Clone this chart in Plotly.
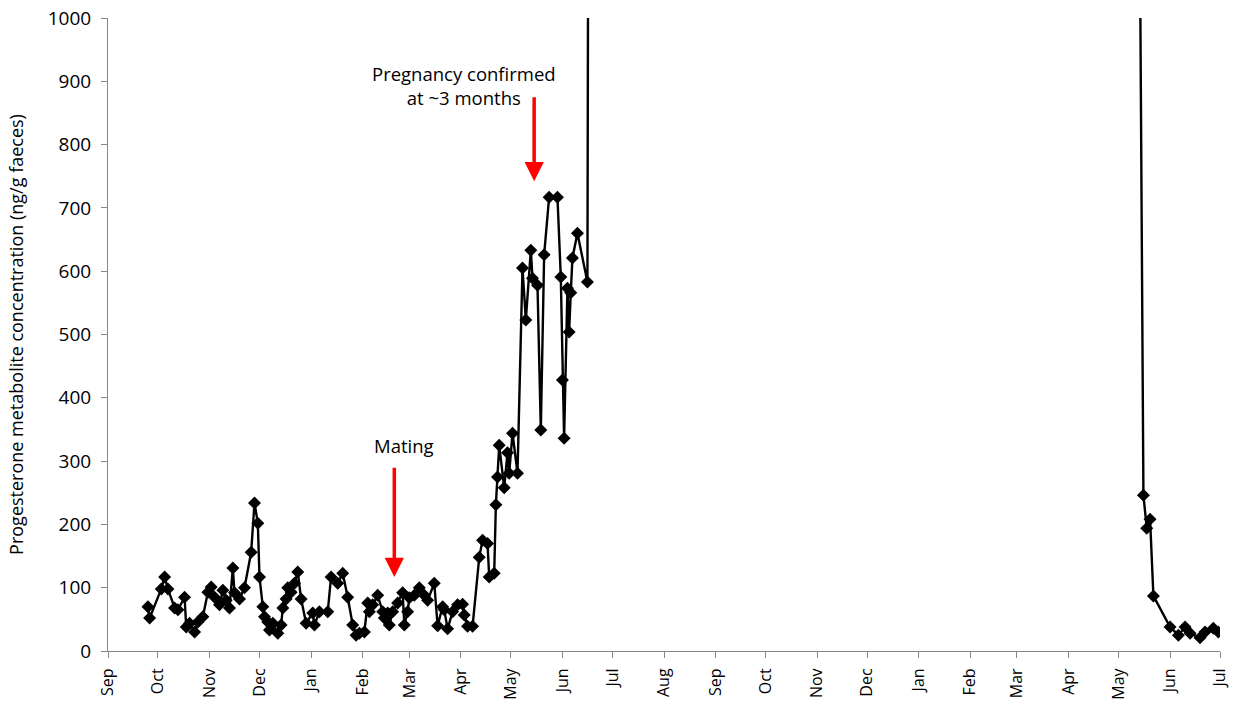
import pandas as pd
import plotly.graph_objects as go

# Sampling dates (days after 1 Sep 2012) and progesterone metabolite values (ng/g faeces)
start_date = "2012-09-01"
sample_day = [
    24, 25, 32, 34, 36, 40, 42, 46, 47, 49, 52, 54, 57, 60, 62, 64, 67, 69, 71, 73,
    75, 76, 79, 82, 86, 88, 90, 91, 93, 94, 96, 97, 99, 102, 104, 105, 107, 108, 110, 112,
    114, 116, 119, 123, 124, 127, 132, 134, 138, 141, 144, 147, 149, 151, 154, 156, 157, 159, 162, 165,
    166, 168, 169, 171, 174, 177, 178, 180, 181, 184, 187, 190, 192, 196, 198, 201, 202, 204, 207, 210,
    213, 214, 216, 219, 223, 225, 228, 229, 232, 233, 234, 235, 238, 240, 241, 243, 246, 249, 251, 254,
    255, 258, 260, 262, 265, 270, 272, 273, 274, 276, 277, 278, 279, 282, 288, 289,
    618, 622, 624, 626, 628, 638, 643, 647, 650, 656, 659, 664, 667,
]
progesterone = [
    70, 52, 98, 117, 98, 68, 65, 85, 38, 44, 30, 46, 54, 93, 101, 85, 73, 96, 80, 68,
    131, 92, 82, 100, 156, 234, 202, 117, 70, 54, 46, 33, 44, 28, 41, 68, 82, 100, 93, 107,
    125, 82, 44, 60, 41, 62, 62, 117, 107, 123, 85, 41, 25, 28, 30, 76, 62, 73, 88, 62,
    52, 60, 41, 62, 76, 92, 41, 62, 84, 88, 100, 88, 80, 107, 40, 70, 65, 35, 62, 73,
    74, 57, 39, 39, 148, 175, 170, 117, 123, 231, 275, 325, 258, 313, 281, 344, 281, 605, 523, 633,
    589, 578, 349, 626, 717, 717, 591, 428, 336, 573, 504, 566, 621, 660, 583, 1850,
    1900, 246, 194, 208, 87, 38, 25, 38, 28, 21, 30, 36, 30,
]

x_range = ["2012-09-01", "2014-07-01"]
y_range = [0, 1000]
y_title = "Progesterone metabolite concentration (ng/g faeces)"

# Annotations: (days after start, value)
mating_arrow = {"day": 172, "tip": 117, "tail": 292}
mating_label = {"day": 178, "value": 324, "text": "Mating"}
preg_arrow = {"day": 256, "tip": 742, "tail": 877}
preg_label = {"day": 214, "value": 894, "text": "Pregnancy confirmed<br>at ~3 months"}

t0 = pd.Timestamp(start_date)
def to_date(d):
    return (t0 + pd.Timedelta(days=d)).strftime("%Y-%m-%d")

dates = [to_date(d) for d in sample_day]

fig = go.Figure()
fig.add_trace(go.Scatter(
    x=dates, y=progesterone, mode="lines+markers",
    line=dict(color="black", width=2.4),
    marker=dict(symbol="diamond", size=10, color="black"),
    showlegend=False,
))

font_family = "Open Sans, Noto Sans, DejaVu Sans, sans-serif"

annotations = []
for arr in (mating_arrow, preg_arrow):
    annotations.append(dict(
        x=to_date(arr["day"]), y=arr["tip"], ax=to_date(arr["day"]), ay=arr["tail"],
        xref="x", yref="y", axref="x", ayref="y",
        showarrow=True, arrowhead=2, arrowsize=1.1, arrowwidth=3.5, arrowcolor="#ff0000", text="",
    ))
for lab in (mating_label, preg_label):
    annotations.append(dict(
        x=to_date(lab["day"]), y=lab["value"], xref="x", yref="y",
        text=lab["text"], showarrow=False,
        font=dict(family=font_family, size=18.5, color="black"),
        align="center",
    ))

fig.update_layout(
    width=1236, height=702,
    margin=dict(l=108, r=16, t=18, b=51),
    paper_bgcolor="white", plot_bgcolor="white",
    font=dict(family=font_family, color="black"),
    annotations=annotations,
    xaxis=dict(
        range=x_range, type="date", automargin=False,
        tick0="2012-09-01", dtick="M1", tickformat="%b",
        tickangle=-90, ticks="outside", ticklen=6, tickcolor="#868686",
        showline=True, linecolor="#868686", linewidth=1,
        showgrid=False, zeroline=False, ticklabelstandoff=4,
        tickfont=dict(size=16, family=font_family),
    ),
    yaxis=dict(
        range=y_range, dtick=100, automargin=False,
        ticks="outside", ticklen=6, tickcolor="#868686",
        showline=True, linecolor="#868686", linewidth=1,
        showgrid=False, zeroline=False, ticklabelstandoff=6,
        tickfont=dict(size=19, family=font_family),
        title=dict(text=y_title, font=dict(size=18, family=font_family), standoff=19),
    ),
)

fig.write_html(
    "out.html",
    config={"displayModeBar": False},
    post_script="document.body.style.margin='0px';document.body.style.overflow='hidden';",
)
